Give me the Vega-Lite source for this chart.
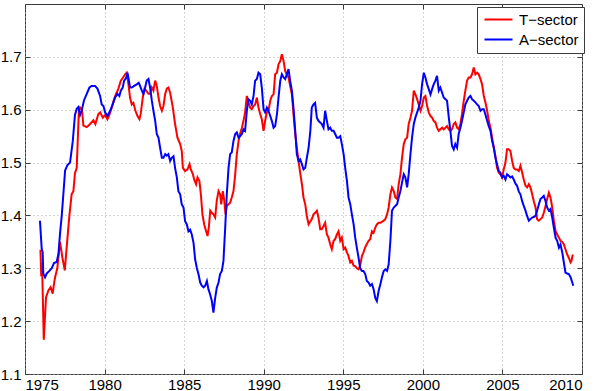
{
"$schema":"https://vega.github.io/schema/vega-lite/v6.json",
"width":557,"height":370,
"autosize":{"type":"none"},
"padding":{"left":25,"top":4,"right":18,"bottom":17},
"background":"white",
"config":{"view":{"stroke":"#3a3a3a","strokeWidth":1},"font":"Liberation Sans"},
"datasets":{"d":[
{"t":1975.97,"v":1.335,"s":"T−sector"},{"t":1976.02,"v":1.285,"s":"T−sector"},{"t":1976.07,"v":1.31,"s":"T−sector"},{"t":1976.18,"v":1.165,"s":"T−sector"},{"t":1976.32,"v":1.245,"s":"T−sector"},{"t":1976.47,"v":1.258,"s":"T−sector"},{"t":1976.61,"v":1.264,"s":"T−sector"},{"t":1976.74,"v":1.252,"s":"T−sector"},{"t":1976.82,"v":1.27,"s":"T−sector"},{"t":1976.89,"v":1.283,"s":"T−sector"},{"t":1977.03,"v":1.30,"s":"T−sector"},{"t":1977.2,"v":1.35,"s":"T−sector"},{"t":1977.35,"v":1.32,"s":"T−sector"},{"t":1977.5,"v":1.296,"s":"T−sector"},{"t":1977.62,"v":1.34,"s":"T−sector"},{"t":1977.79,"v":1.40,"s":"T−sector"},{"t":1977.93,"v":1.44,"s":"T−sector"},{"t":1978.04,"v":1.446,"s":"T−sector"},{"t":1978.14,"v":1.48,"s":"T−sector"},{"t":1978.25,"v":1.49,"s":"T−sector"},{"t":1978.38,"v":1.595,"s":"T−sector"},{"t":1978.46,"v":1.604,"s":"T−sector"},{"t":1978.58,"v":1.60,"s":"T−sector"},{"t":1978.67,"v":1.57,"s":"T−sector"},{"t":1978.88,"v":1.567,"s":"T−sector"},{"t":1979.09,"v":1.573,"s":"T−sector"},{"t":1979.3,"v":1.58,"s":"T−sector"},{"t":1979.42,"v":1.573,"s":"T−sector"},{"t":1979.61,"v":1.592,"s":"T−sector"},{"t":1979.72,"v":1.595,"s":"T−sector"},{"t":1979.89,"v":1.585,"s":"T−sector"},{"t":1980.03,"v":1.59,"s":"T−sector"},{"t":1980.18,"v":1.582,"s":"T−sector"},{"t":1980.30,"v":1.59,"s":"T−sector"},{"t":1980.45,"v":1.604,"s":"T−sector"},{"t":1980.60,"v":1.62,"s":"T−sector"},{"t":1980.72,"v":1.63,"s":"T−sector"},{"t":1980.87,"v":1.64,"s":"T−sector"},{"t":1981.02,"v":1.655,"s":"T−sector"},{"t":1981.14,"v":1.66,"s":"T−sector"},{"t":1981.29,"v":1.667,"s":"T−sector"},{"t":1981.39,"v":1.67,"s":"T−sector"},{"t":1981.50,"v":1.648,"s":"T−sector"},{"t":1981.60,"v":1.623,"s":"T−sector"},{"t":1981.71,"v":1.61,"s":"T−sector"},{"t":1981.81,"v":1.613,"s":"T−sector"},{"t":1981.94,"v":1.598,"s":"T−sector"},{"t":1982.07,"v":1.588,"s":"T−sector"},{"t":1982.19,"v":1.582,"s":"T−sector"},{"t":1982.27,"v":1.592,"s":"T−sector"},{"t":1982.40,"v":1.623,"s":"T−sector"},{"t":1982.51,"v":1.64,"s":"T−sector"},{"t":1982.61,"v":1.636,"s":"T−sector"},{"t":1982.76,"v":1.63,"s":"T−sector"},{"t":1982.86,"v":1.63,"s":"T−sector"},{"t":1982.97,"v":1.642,"s":"T−sector"},{"t":1983.07,"v":1.636,"s":"T−sector"},{"t":1983.18,"v":1.655,"s":"T−sector"},{"t":1983.28,"v":1.645,"s":"T−sector"},{"t":1983.39,"v":1.623,"s":"T−sector"},{"t":1983.49,"v":1.607,"s":"T−sector"},{"t":1983.60,"v":1.598,"s":"T−sector"},{"t":1983.70,"v":1.607,"s":"T−sector"},{"t":1983.81,"v":1.63,"s":"T−sector"},{"t":1983.91,"v":1.64,"s":"T−sector"},{"t":1984.01,"v":1.642,"s":"T−sector"},{"t":1984.12,"v":1.632,"s":"T−sector"},{"t":1984.29,"v":1.604,"s":"T−sector"},{"t":1984.43,"v":1.573,"s":"T−sector"},{"t":1984.58,"v":1.547,"s":"T−sector"},{"t":1984.75,"v":1.535,"s":"T−sector"},{"t":1984.85,"v":1.522,"s":"T−sector"},{"t":1984.92,"v":1.49,"s":"T−sector"},{"t":1985.06,"v":1.484,"s":"T−sector"},{"t":1985.21,"v":1.487,"s":"T−sector"},{"t":1985.34,"v":1.497,"s":"T−sector"},{"t":1985.42,"v":1.487,"s":"T−sector"},{"t":1985.55,"v":1.478,"s":"T−sector"},{"t":1985.63,"v":1.468,"s":"T−sector"},{"t":1985.75,"v":1.459,"s":"T−sector"},{"t":1985.84,"v":1.472,"s":"T−sector"},{"t":1985.96,"v":1.465,"s":"T−sector"},{"t":1986.05,"v":1.44,"s":"T−sector"},{"t":1986.15,"v":1.402,"s":"T−sector"},{"t":1986.26,"v":1.383,"s":"T−sector"},{"t":1986.38,"v":1.37,"s":"T−sector"},{"t":1986.47,"v":1.361,"s":"T−sector"},{"t":1986.55,"v":1.377,"s":"T−sector"},{"t":1986.64,"v":1.409,"s":"T−sector"},{"t":1986.74,"v":1.405,"s":"T−sector"},{"t":1986.84,"v":1.402,"s":"T−sector"},{"t":1986.95,"v":1.396,"s":"T−sector"},{"t":1987.05,"v":1.428,"s":"T−sector"},{"t":1987.16,"v":1.446,"s":"T−sector"},{"t":1987.26,"v":1.44,"s":"T−sector"},{"t":1987.33,"v":1.421,"s":"T−sector"},{"t":1987.43,"v":1.446,"s":"T−sector"},{"t":1987.52,"v":1.428,"s":"T−sector"},{"t":1987.60,"v":1.402,"s":"T−sector"},{"t":1987.68,"v":1.418,"s":"T−sector"},{"t":1987.79,"v":1.421,"s":"T−sector"},{"t":1987.89,"v":1.424,"s":"T−sector"},{"t":1987.99,"v":1.434,"s":"T−sector"},{"t":1988.10,"v":1.446,"s":"T−sector"},{"t":1988.21,"v":1.478,"s":"T−sector"},{"t":1988.31,"v":1.516,"s":"T−sector"},{"t":1988.42,"v":1.541,"s":"T−sector"},{"t":1988.52,"v":1.555,"s":"T−sector"},{"t":1988.63,"v":1.566,"s":"T−sector"},{"t":1988.73,"v":1.579,"s":"T−sector"},{"t":1988.83,"v":1.595,"s":"T−sector"},{"t":1988.94,"v":1.626,"s":"T−sector"},{"t":1989.04,"v":1.614,"s":"T−sector"},{"t":1989.15,"v":1.604,"s":"T−sector"},{"t":1989.25,"v":1.601,"s":"T−sector"},{"t":1989.36,"v":1.607,"s":"T−sector"},{"t":1989.46,"v":1.61,"s":"T−sector"},{"t":1989.57,"v":1.623,"s":"T−sector"},{"t":1989.67,"v":1.604,"s":"T−sector"},{"t":1989.78,"v":1.592,"s":"T−sector"},{"t":1989.88,"v":1.582,"s":"T−sector"},{"t":1989.99,"v":1.56,"s":"T−sector"},{"t":1990.09,"v":1.579,"s":"T−sector"},{"t":1990.20,"v":1.595,"s":"T−sector"},{"t":1990.30,"v":1.598,"s":"T−sector"},{"t":1990.41,"v":1.617,"s":"T−sector"},{"t":1990.51,"v":1.626,"s":"T−sector"},{"t":1990.62,"v":1.629,"s":"T−sector"},{"t":1990.72,"v":1.667,"s":"T−sector"},{"t":1990.83,"v":1.67,"s":"T−sector"},{"t":1990.93,"v":1.686,"s":"T−sector"},{"t":1991.04,"v":1.692,"s":"T−sector"},{"t":1991.14,"v":1.705,"s":"T−sector"},{"t":1991.25,"v":1.692,"s":"T−sector"},{"t":1991.35,"v":1.673,"s":"T−sector"},{"t":1991.45,"v":1.667,"s":"T−sector"},{"t":1991.56,"v":1.661,"s":"T−sector"},{"t":1991.66,"v":1.645,"s":"T−sector"},{"t":1991.77,"v":1.629,"s":"T−sector"},{"t":1991.87,"v":1.592,"s":"T−sector"},{"t":1991.98,"v":1.554,"s":"T−sector"},{"t":1992.08,"v":1.528,"s":"T−sector"},{"t":1992.19,"v":1.503,"s":"T−sector"},{"t":1992.29,"v":1.481,"s":"T−sector"},{"t":1992.40,"v":1.459,"s":"T−sector"},{"t":1992.50,"v":1.434,"s":"T−sector"},{"t":1992.61,"v":1.421,"s":"T−sector"},{"t":1992.71,"v":1.399,"s":"T−sector"},{"t":1992.82,"v":1.383,"s":"T−sector"},{"t":1992.92,"v":1.388,"s":"T−sector"},{"t":1993.02,"v":1.393,"s":"T−sector"},{"t":1993.13,"v":1.402,"s":"T−sector"},{"t":1993.23,"v":1.405,"s":"T−sector"},{"t":1993.34,"v":1.409,"s":"T−sector"},{"t":1993.44,"v":1.396,"s":"T−sector"},{"t":1993.55,"v":1.374,"s":"T−sector"},{"t":1993.65,"v":1.374,"s":"T−sector"},{"t":1993.76,"v":1.38,"s":"T−sector"},{"t":1993.86,"v":1.386,"s":"T−sector"},{"t":1993.97,"v":1.364,"s":"T−sector"},{"t":1994.07,"v":1.358,"s":"T−sector"},{"t":1994.18,"v":1.345,"s":"T−sector"},{"t":1994.28,"v":1.336,"s":"T−sector"},{"t":1994.39,"v":1.352,"s":"T−sector"},{"t":1994.49,"v":1.355,"s":"T−sector"},{"t":1994.60,"v":1.364,"s":"T−sector"},{"t":1994.70,"v":1.37,"s":"T−sector"},{"t":1994.81,"v":1.352,"s":"T−sector"},{"t":1994.91,"v":1.358,"s":"T−sector"},{"t":1995.02,"v":1.336,"s":"T−sector"},{"t":1995.12,"v":1.339,"s":"T−sector"},{"t":1995.23,"v":1.33,"s":"T−sector"},{"t":1995.33,"v":1.323,"s":"T−sector"},{"t":1995.44,"v":1.311,"s":"T−sector"},{"t":1995.54,"v":1.314,"s":"T−sector"},{"t":1995.65,"v":1.305,"s":"T−sector"},{"t":1995.75,"v":1.304,"s":"T−sector"},{"t":1995.85,"v":1.30,"s":"T−sector"},{"t":1995.96,"v":1.298,"s":"T−sector"},{"t":1996.06,"v":1.305,"s":"T−sector"},{"t":1996.17,"v":1.323,"s":"T−sector"},{"t":1996.27,"v":1.33,"s":"T−sector"},{"t":1996.38,"v":1.34,"s":"T−sector"},{"t":1996.48,"v":1.346,"s":"T−sector"},{"t":1996.59,"v":1.352,"s":"T−sector"},{"t":1996.69,"v":1.355,"s":"T−sector"},{"t":1996.80,"v":1.37,"s":"T−sector"},{"t":1996.90,"v":1.367,"s":"T−sector"},{"t":1997.01,"v":1.377,"s":"T−sector"},{"t":1997.11,"v":1.383,"s":"T−sector"},{"t":1997.22,"v":1.386,"s":"T−sector"},{"t":1997.33,"v":1.386,"s":"T−sector"},{"t":1997.54,"v":1.39,"s":"T−sector"},{"t":1997.64,"v":1.393,"s":"T−sector"},{"t":1997.75,"v":1.402,"s":"T−sector"},{"t":1997.85,"v":1.415,"s":"T−sector"},{"t":1997.96,"v":1.44,"s":"T−sector"},{"t":1998.06,"v":1.453,"s":"T−sector"},{"t":1998.17,"v":1.446,"s":"T−sector"},{"t":1998.27,"v":1.434,"s":"T−sector"},{"t":1998.38,"v":1.431,"s":"T−sector"},{"t":1998.48,"v":1.459,"s":"T−sector"},{"t":1998.59,"v":1.478,"s":"T−sector"},{"t":1998.69,"v":1.509,"s":"T−sector"},{"t":1998.80,"v":1.535,"s":"T−sector"},{"t":1998.90,"v":1.544,"s":"T−sector"},{"t":1999.01,"v":1.547,"s":"T−sector"},{"t":1999.11,"v":1.573,"s":"T−sector"},{"t":1999.22,"v":1.585,"s":"T−sector"},{"t":1999.32,"v":1.598,"s":"T−sector"},{"t":1999.43,"v":1.636,"s":"T−sector"},{"t":1999.53,"v":1.629,"s":"T−sector"},{"t":1999.64,"v":1.62,"s":"T−sector"},{"t":1999.74,"v":1.61,"s":"T−sector"},{"t":1999.85,"v":1.598,"s":"T−sector"},{"t":1999.95,"v":1.607,"s":"T−sector"},{"t":2000.06,"v":1.623,"s":"T−sector"},{"t":2000.16,"v":1.626,"s":"T−sector"},{"t":2000.27,"v":1.607,"s":"T−sector"},{"t":2000.37,"v":1.595,"s":"T−sector"},{"t":2000.48,"v":1.588,"s":"T−sector"},{"t":2000.58,"v":1.585,"s":"T−sector"},{"t":2000.68,"v":1.579,"s":"T−sector"},{"t":2000.79,"v":1.576,"s":"T−sector"},{"t":2000.89,"v":1.566,"s":"T−sector"},{"t":2001.00,"v":1.56,"s":"T−sector"},{"t":2001.10,"v":1.563,"s":"T−sector"},{"t":2001.21,"v":1.566,"s":"T−sector"},{"t":2001.31,"v":1.563,"s":"T−sector"},{"t":2001.42,"v":1.566,"s":"T−sector"},{"t":2001.52,"v":1.569,"s":"T−sector"},{"t":2001.63,"v":1.563,"s":"T−sector"},{"t":2001.73,"v":1.56,"s":"T−sector"},{"t":2001.83,"v":1.563,"s":"T−sector"},{"t":2001.94,"v":1.573,"s":"T−sector"},{"t":2002.04,"v":1.576,"s":"T−sector"},{"t":2002.15,"v":1.566,"s":"T−sector"},{"t":2002.25,"v":1.563,"s":"T−sector"},{"t":2002.36,"v":1.573,"s":"T−sector"},{"t":2002.46,"v":1.592,"s":"T−sector"},{"t":2002.57,"v":1.617,"s":"T−sector"},{"t":2002.67,"v":1.636,"s":"T−sector"},{"t":2002.78,"v":1.655,"s":"T−sector"},{"t":2002.88,"v":1.661,"s":"T−sector"},{"t":2002.99,"v":1.661,"s":"T−sector"},{"t":2003.09,"v":1.667,"s":"T−sector"},{"t":2003.20,"v":1.68,"s":"T−sector"},{"t":2003.30,"v":1.667,"s":"T−sector"},{"t":2003.41,"v":1.67,"s":"T−sector"},{"t":2003.51,"v":1.667,"s":"T−sector"},{"t":2003.62,"v":1.658,"s":"T−sector"},{"t":2003.72,"v":1.648,"s":"T−sector"},{"t":2003.83,"v":1.626,"s":"T−sector"},{"t":2003.93,"v":1.614,"s":"T−sector"},{"t":2004.04,"v":1.598,"s":"T−sector"},{"t":2004.14,"v":1.579,"s":"T−sector"},{"t":2004.25,"v":1.566,"s":"T−sector"},{"t":2004.35,"v":1.547,"s":"T−sector"},{"t":2004.46,"v":1.528,"s":"T−sector"},{"t":2004.56,"v":1.512,"s":"T−sector"},{"t":2004.66,"v":1.49,"s":"T−sector"},{"t":2004.77,"v":1.481,"s":"T−sector"},{"t":2004.87,"v":1.478,"s":"T−sector"},{"t":2004.98,"v":1.472,"s":"T−sector"},{"t":2005.08,"v":1.487,"s":"T−sector"},{"t":2005.19,"v":1.50,"s":"T−sector"},{"t":2005.29,"v":1.525,"s":"T−sector"},{"t":2005.40,"v":1.525,"s":"T−sector"},{"t":2005.50,"v":1.522,"s":"T−sector"},{"t":2005.61,"v":1.503,"s":"T−sector"},{"t":2005.71,"v":1.49,"s":"T−sector"},{"t":2005.82,"v":1.487,"s":"T−sector"},{"t":2005.92,"v":1.487,"s":"T−sector"},{"t":2006.03,"v":1.484,"s":"T−sector"},{"t":2006.13,"v":1.494,"s":"T−sector"},{"t":2006.24,"v":1.481,"s":"T−sector"},{"t":2006.34,"v":1.468,"s":"T−sector"},{"t":2006.45,"v":1.456,"s":"T−sector"},{"t":2006.55,"v":1.453,"s":"T−sector"},{"t":2006.66,"v":1.459,"s":"T−sector"},{"t":2006.76,"v":1.453,"s":"T−sector"},{"t":2006.87,"v":1.44,"s":"T−sector"},{"t":2006.97,"v":1.427,"s":"T−sector"},{"t":2007.08,"v":1.415,"s":"T−sector"},{"t":2007.18,"v":1.393,"s":"T−sector"},{"t":2007.29,"v":1.39,"s":"T−sector"},{"t":2007.39,"v":1.393,"s":"T−sector"},{"t":2007.50,"v":1.396,"s":"T−sector"},{"t":2007.60,"v":1.405,"s":"T−sector"},{"t":2007.71,"v":1.418,"s":"T−sector"},{"t":2007.81,"v":1.431,"s":"T−sector"},{"t":2007.92,"v":1.443,"s":"T−sector"},{"t":2008.02,"v":1.434,"s":"T−sector"},{"t":2008.13,"v":1.415,"s":"T−sector"},{"t":2008.23,"v":1.39,"s":"T−sector"},{"t":2008.34,"v":1.37,"s":"T−sector"},{"t":2008.44,"v":1.364,"s":"T−sector"},{"t":2008.55,"v":1.358,"s":"T−sector"},{"t":2008.65,"v":1.352,"s":"T−sector"},{"t":2008.76,"v":1.35,"s":"T−sector"},{"t":2008.86,"v":1.345,"s":"T−sector"},{"t":2008.96,"v":1.336,"s":"T−sector"},{"t":2009.07,"v":1.326,"s":"T−sector"},{"t":2009.17,"v":1.32,"s":"T−sector"},{"t":2009.28,"v":1.311,"s":"T−sector"},{"t":2009.34,"v":1.314,"s":"T−sector"},{"t":2009.42,"v":1.326,"s":"T−sector"},
{"t":1975.94,"v":1.39,"s":"A−sector"},{"t":1976.05,"v":1.337,"s":"A−sector"},{"t":1976.11,"v":1.33,"s":"A−sector"},{"t":1976.15,"v":1.29,"s":"A−sector"},{"t":1976.26,"v":1.283,"s":"A−sector"},{"t":1976.36,"v":1.29,"s":"A−sector"},{"t":1976.53,"v":1.295,"s":"A−sector"},{"t":1976.68,"v":1.30,"s":"A−sector"},{"t":1976.82,"v":1.31,"s":"A−sector"},{"t":1976.99,"v":1.312,"s":"A−sector"},{"t":1977.10,"v":1.327,"s":"A−sector"},{"t":1977.20,"v":1.365,"s":"A−sector"},{"t":1977.31,"v":1.40,"s":"A−sector"},{"t":1977.41,"v":1.44,"s":"A−sector"},{"t":1977.52,"v":1.485,"s":"A−sector"},{"t":1977.66,"v":1.495,"s":"A−sector"},{"t":1977.83,"v":1.50,"s":"A−sector"},{"t":1978.00,"v":1.54,"s":"A−sector"},{"t":1978.14,"v":1.59,"s":"A−sector"},{"t":1978.25,"v":1.602,"s":"A−sector"},{"t":1978.35,"v":1.605,"s":"A−sector"},{"t":1978.46,"v":1.59,"s":"A−sector"},{"t":1978.56,"v":1.598,"s":"A−sector"},{"t":1978.71,"v":1.618,"s":"A−sector"},{"t":1978.88,"v":1.63,"s":"A−sector"},{"t":1979.05,"v":1.642,"s":"A−sector"},{"t":1979.19,"v":1.645,"s":"A−sector"},{"t":1979.40,"v":1.645,"s":"A−sector"},{"t":1979.55,"v":1.64,"s":"A−sector"},{"t":1979.72,"v":1.626,"s":"A−sector"},{"t":1979.82,"v":1.61,"s":"A−sector"},{"t":1979.93,"v":1.607,"s":"A−sector"},{"t":1980.03,"v":1.595,"s":"A−sector"},{"t":1980.18,"v":1.588,"s":"A−sector"},{"t":1980.35,"v":1.598,"s":"A−sector"},{"t":1980.51,"v":1.61,"s":"A−sector"},{"t":1980.66,"v":1.623,"s":"A−sector"},{"t":1980.81,"v":1.63,"s":"A−sector"},{"t":1980.93,"v":1.626,"s":"A−sector"},{"t":1981.02,"v":1.636,"s":"A−sector"},{"t":1981.14,"v":1.642,"s":"A−sector"},{"t":1981.23,"v":1.655,"s":"A−sector"},{"t":1981.35,"v":1.66,"s":"A−sector"},{"t":1981.44,"v":1.67,"s":"A−sector"},{"t":1981.50,"v":1.66,"s":"A−sector"},{"t":1981.60,"v":1.642,"s":"A−sector"},{"t":1981.71,"v":1.642,"s":"A−sector"},{"t":1981.86,"v":1.645,"s":"A−sector"},{"t":1982.02,"v":1.648,"s":"A−sector"},{"t":1982.15,"v":1.651,"s":"A−sector"},{"t":1982.23,"v":1.645,"s":"A−sector"},{"t":1982.34,"v":1.636,"s":"A−sector"},{"t":1982.44,"v":1.63,"s":"A−sector"},{"t":1982.55,"v":1.642,"s":"A−sector"},{"t":1982.65,"v":1.655,"s":"A−sector"},{"t":1982.76,"v":1.658,"s":"A−sector"},{"t":1982.86,"v":1.642,"s":"A−sector"},{"t":1982.97,"v":1.617,"s":"A−sector"},{"t":1983.07,"v":1.598,"s":"A−sector"},{"t":1983.18,"v":1.579,"s":"A−sector"},{"t":1983.28,"v":1.554,"s":"A−sector"},{"t":1983.39,"v":1.547,"s":"A−sector"},{"t":1983.49,"v":1.528,"s":"A−sector"},{"t":1983.60,"v":1.509,"s":"A−sector"},{"t":1983.70,"v":1.509,"s":"A−sector"},{"t":1983.81,"v":1.516,"s":"A−sector"},{"t":1983.91,"v":1.513,"s":"A−sector"},{"t":1984.01,"v":1.516,"s":"A−sector"},{"t":1984.12,"v":1.503,"s":"A−sector"},{"t":1984.22,"v":1.509,"s":"A−sector"},{"t":1984.33,"v":1.512,"s":"A−sector"},{"t":1984.43,"v":1.49,"s":"A−sector"},{"t":1984.54,"v":1.472,"s":"A−sector"},{"t":1984.64,"v":1.446,"s":"A−sector"},{"t":1984.75,"v":1.44,"s":"A−sector"},{"t":1984.85,"v":1.421,"s":"A−sector"},{"t":1984.96,"v":1.415,"s":"A−sector"},{"t":1985.06,"v":1.389,"s":"A−sector"},{"t":1985.17,"v":1.383,"s":"A−sector"},{"t":1985.27,"v":1.37,"s":"A−sector"},{"t":1985.38,"v":1.373,"s":"A−sector"},{"t":1985.48,"v":1.364,"s":"A−sector"},{"t":1985.59,"v":1.348,"s":"A−sector"},{"t":1985.69,"v":1.317,"s":"A−sector"},{"t":1985.80,"v":1.30,"s":"A−sector"},{"t":1985.90,"v":1.289,"s":"A−sector"},{"t":1986.01,"v":1.273,"s":"A−sector"},{"t":1986.11,"v":1.267,"s":"A−sector"},{"t":1986.22,"v":1.264,"s":"A−sector"},{"t":1986.32,"v":1.267,"s":"A−sector"},{"t":1986.43,"v":1.276,"s":"A−sector"},{"t":1986.53,"v":1.26,"s":"A−sector"},{"t":1986.63,"v":1.251,"s":"A−sector"},{"t":1986.74,"v":1.238,"s":"A−sector"},{"t":1986.84,"v":1.216,"s":"A−sector"},{"t":1986.95,"v":1.244,"s":"A−sector"},{"t":1987.05,"v":1.263,"s":"A−sector"},{"t":1987.16,"v":1.273,"s":"A−sector"},{"t":1987.26,"v":1.289,"s":"A−sector"},{"t":1987.37,"v":1.295,"s":"A−sector"},{"t":1987.47,"v":1.314,"s":"A−sector"},{"t":1987.58,"v":1.377,"s":"A−sector"},{"t":1987.68,"v":1.44,"s":"A−sector"},{"t":1987.79,"v":1.49,"s":"A−sector"},{"t":1987.89,"v":1.516,"s":"A−sector"},{"t":1987.99,"v":1.519,"s":"A−sector"},{"t":1988.10,"v":1.541,"s":"A−sector"},{"t":1988.21,"v":1.554,"s":"A−sector"},{"t":1988.31,"v":1.557,"s":"A−sector"},{"t":1988.42,"v":1.547,"s":"A−sector"},{"t":1988.52,"v":1.55,"s":"A−sector"},{"t":1988.63,"v":1.554,"s":"A−sector"},{"t":1988.73,"v":1.563,"s":"A−sector"},{"t":1988.83,"v":1.56,"s":"A−sector"},{"t":1988.94,"v":1.598,"s":"A−sector"},{"t":1989.04,"v":1.62,"s":"A−sector"},{"t":1989.15,"v":1.617,"s":"A−sector"},{"t":1989.25,"v":1.61,"s":"A−sector"},{"t":1989.36,"v":1.626,"s":"A−sector"},{"t":1989.46,"v":1.655,"s":"A−sector"},{"t":1989.57,"v":1.658,"s":"A−sector"},{"t":1989.67,"v":1.67,"s":"A−sector"},{"t":1989.78,"v":1.667,"s":"A−sector"},{"t":1989.88,"v":1.642,"s":"A−sector"},{"t":1989.99,"v":1.601,"s":"A−sector"},{"t":1990.09,"v":1.595,"s":"A−sector"},{"t":1990.20,"v":1.604,"s":"A−sector"},{"t":1990.30,"v":1.598,"s":"A−sector"},{"t":1990.41,"v":1.588,"s":"A−sector"},{"t":1990.51,"v":1.579,"s":"A−sector"},{"t":1990.62,"v":1.566,"s":"A−sector"},{"t":1990.72,"v":1.569,"s":"A−sector"},{"t":1990.83,"v":1.591,"s":"A−sector"},{"t":1990.93,"v":1.623,"s":"A−sector"},{"t":1991.04,"v":1.655,"s":"A−sector"},{"t":1991.14,"v":1.667,"s":"A−sector"},{"t":1991.25,"v":1.661,"s":"A−sector"},{"t":1991.35,"v":1.658,"s":"A−sector"},{"t":1991.45,"v":1.667,"s":"A−sector"},{"t":1991.56,"v":1.677,"s":"A−sector"},{"t":1991.66,"v":1.655,"s":"A−sector"},{"t":1991.77,"v":1.636,"s":"A−sector"},{"t":1991.87,"v":1.604,"s":"A−sector"},{"t":1991.98,"v":1.56,"s":"A−sector"},{"t":1992.08,"v":1.516,"s":"A−sector"},{"t":1992.19,"v":1.503,"s":"A−sector"},{"t":1992.29,"v":1.506,"s":"A−sector"},{"t":1992.40,"v":1.497,"s":"A−sector"},{"t":1992.50,"v":1.487,"s":"A−sector"},{"t":1992.61,"v":1.49,"s":"A−sector"},{"t":1992.71,"v":1.509,"s":"A−sector"},{"t":1992.82,"v":1.528,"s":"A−sector"},{"t":1992.93,"v":1.56,"s":"A−sector"},{"t":1993.02,"v":1.604,"s":"A−sector"},{"t":1993.13,"v":1.61,"s":"A−sector"},{"t":1993.23,"v":1.613,"s":"A−sector"},{"t":1993.34,"v":1.585,"s":"A−sector"},{"t":1993.44,"v":1.579,"s":"A−sector"},{"t":1993.55,"v":1.576,"s":"A−sector"},{"t":1993.65,"v":1.573,"s":"A−sector"},{"t":1993.76,"v":1.566,"s":"A−sector"},{"t":1993.86,"v":1.598,"s":"A−sector"},{"t":1993.97,"v":1.579,"s":"A−sector"},{"t":1994.07,"v":1.563,"s":"A−sector"},{"t":1994.18,"v":1.566,"s":"A−sector"},{"t":1994.28,"v":1.56,"s":"A−sector"},{"t":1994.39,"v":1.56,"s":"A−sector"},{"t":1994.49,"v":1.554,"s":"A−sector"},{"t":1994.60,"v":1.547,"s":"A−sector"},{"t":1994.70,"v":1.547,"s":"A−sector"},{"t":1994.81,"v":1.55,"s":"A−sector"},{"t":1994.91,"v":1.535,"s":"A−sector"},{"t":1995.02,"v":1.516,"s":"A−sector"},{"t":1995.12,"v":1.49,"s":"A−sector"},{"t":1995.23,"v":1.465,"s":"A−sector"},{"t":1995.33,"v":1.434,"s":"A−sector"},{"t":1995.44,"v":1.421,"s":"A−sector"},{"t":1995.54,"v":1.402,"s":"A−sector"},{"t":1995.65,"v":1.383,"s":"A−sector"},{"t":1995.75,"v":1.358,"s":"A−sector"},{"t":1995.85,"v":1.339,"s":"A−sector"},{"t":1995.96,"v":1.32,"s":"A−sector"},{"t":1996.06,"v":1.30,"s":"A−sector"},{"t":1996.17,"v":1.295,"s":"A−sector"},{"t":1996.27,"v":1.295,"s":"A−sector"},{"t":1996.38,"v":1.289,"s":"A−sector"},{"t":1996.48,"v":1.276,"s":"A−sector"},{"t":1996.59,"v":1.273,"s":"A−sector"},{"t":1996.69,"v":1.267,"s":"A−sector"},{"t":1996.80,"v":1.27,"s":"A−sector"},{"t":1996.90,"v":1.261,"s":"A−sector"},{"t":1997.01,"v":1.244,"s":"A−sector"},{"t":1997.11,"v":1.238,"s":"A−sector"},{"t":1997.22,"v":1.257,"s":"A−sector"},{"t":1997.33,"v":1.27,"s":"A−sector"},{"t":1997.43,"v":1.283,"s":"A−sector"},{"t":1997.54,"v":1.295,"s":"A−sector"},{"t":1997.64,"v":1.298,"s":"A−sector"},{"t":1997.75,"v":1.295,"s":"A−sector"},{"t":1997.85,"v":1.307,"s":"A−sector"},{"t":1997.96,"v":1.352,"s":"A−sector"},{"t":1998.06,"v":1.409,"s":"A−sector"},{"t":1998.17,"v":1.415,"s":"A−sector"},{"t":1998.27,"v":1.418,"s":"A−sector"},{"t":1998.38,"v":1.421,"s":"A−sector"},{"t":1998.48,"v":1.434,"s":"A−sector"},{"t":1998.59,"v":1.446,"s":"A−sector"},{"t":1998.69,"v":1.462,"s":"A−sector"},{"t":1998.80,"v":1.478,"s":"A−sector"},{"t":1998.90,"v":1.472,"s":"A−sector"},{"t":1999.01,"v":1.453,"s":"A−sector"},{"t":1999.11,"v":1.478,"s":"A−sector"},{"t":1999.22,"v":1.516,"s":"A−sector"},{"t":1999.32,"v":1.547,"s":"A−sector"},{"t":1999.43,"v":1.573,"s":"A−sector"},{"t":1999.53,"v":1.585,"s":"A−sector"},{"t":1999.64,"v":1.595,"s":"A−sector"},{"t":1999.74,"v":1.604,"s":"A−sector"},{"t":1999.85,"v":1.617,"s":"A−sector"},{"t":1999.95,"v":1.648,"s":"A−sector"},{"t":2000.06,"v":1.67,"s":"A−sector"},{"t":2000.16,"v":1.661,"s":"A−sector"},{"t":2000.27,"v":1.648,"s":"A−sector"},{"t":2000.37,"v":1.639,"s":"A−sector"},{"t":2000.48,"v":1.629,"s":"A−sector"},{"t":2000.58,"v":1.639,"s":"A−sector"},{"t":2000.68,"v":1.648,"s":"A−sector"},{"t":2000.79,"v":1.655,"s":"A−sector"},{"t":2000.89,"v":1.664,"s":"A−sector"},{"t":2001.00,"v":1.636,"s":"A−sector"},{"t":2001.10,"v":1.642,"s":"A−sector"},{"t":2001.21,"v":1.632,"s":"A−sector"},{"t":2001.31,"v":1.623,"s":"A−sector"},{"t":2001.42,"v":1.62,"s":"A−sector"},{"t":2001.52,"v":1.617,"s":"A−sector"},{"t":2001.63,"v":1.585,"s":"A−sector"},{"t":2001.73,"v":1.56,"s":"A−sector"},{"t":2001.83,"v":1.532,"s":"A−sector"},{"t":2001.94,"v":1.525,"s":"A−sector"},{"t":2002.04,"v":1.535,"s":"A−sector"},{"t":2002.15,"v":1.528,"s":"A−sector"},{"t":2002.25,"v":1.554,"s":"A−sector"},{"t":2002.36,"v":1.566,"s":"A−sector"},{"t":2002.46,"v":1.579,"s":"A−sector"},{"t":2002.57,"v":1.595,"s":"A−sector"},{"t":2002.67,"v":1.61,"s":"A−sector"},{"t":2002.78,"v":1.617,"s":"A−sector"},{"t":2002.88,"v":1.623,"s":"A−sector"},{"t":2002.99,"v":1.626,"s":"A−sector"},{"t":2003.09,"v":1.62,"s":"A−sector"},{"t":2003.20,"v":1.617,"s":"A−sector"},{"t":2003.30,"v":1.614,"s":"A−sector"},{"t":2003.41,"v":1.61,"s":"A−sector"},{"t":2003.51,"v":1.607,"s":"A−sector"},{"t":2003.62,"v":1.598,"s":"A−sector"},{"t":2003.72,"v":1.601,"s":"A−sector"},{"t":2003.83,"v":1.601,"s":"A−sector"},{"t":2003.93,"v":1.591,"s":"A−sector"},{"t":2004.04,"v":1.579,"s":"A−sector"},{"t":2004.14,"v":1.569,"s":"A−sector"},{"t":2004.25,"v":1.56,"s":"A−sector"},{"t":2004.35,"v":1.541,"s":"A−sector"},{"t":2004.46,"v":1.528,"s":"A−sector"},{"t":2004.56,"v":1.509,"s":"A−sector"},{"t":2004.66,"v":1.497,"s":"A−sector"},{"t":2004.77,"v":1.484,"s":"A−sector"},{"t":2004.87,"v":1.481,"s":"A−sector"},{"t":2004.98,"v":1.472,"s":"A−sector"},{"t":2005.08,"v":1.475,"s":"A−sector"},{"t":2005.19,"v":1.468,"s":"A−sector"},{"t":2005.29,"v":1.478,"s":"A−sector"},{"t":2005.40,"v":1.475,"s":"A−sector"},{"t":2005.50,"v":1.472,"s":"A−sector"},{"t":2005.61,"v":1.474,"s":"A−sector"},{"t":2005.71,"v":1.468,"s":"A−sector"},{"t":2005.82,"v":1.46,"s":"A−sector"},{"t":2005.92,"v":1.456,"s":"A−sector"},{"t":2006.03,"v":1.445,"s":"A−sector"},{"t":2006.13,"v":1.44,"s":"A−sector"},{"t":2006.24,"v":1.427,"s":"A−sector"},{"t":2006.34,"v":1.418,"s":"A−sector"},{"t":2006.45,"v":1.409,"s":"A−sector"},{"t":2006.55,"v":1.399,"s":"A−sector"},{"t":2006.66,"v":1.39,"s":"A−sector"},{"t":2006.76,"v":1.393,"s":"A−sector"},{"t":2006.87,"v":1.396,"s":"A−sector"},{"t":2006.97,"v":1.397,"s":"A−sector"},{"t":2007.08,"v":1.399,"s":"A−sector"},{"t":2007.18,"v":1.409,"s":"A−sector"},{"t":2007.29,"v":1.421,"s":"A−sector"},{"t":2007.39,"v":1.431,"s":"A−sector"},{"t":2007.50,"v":1.434,"s":"A−sector"},{"t":2007.60,"v":1.437,"s":"A−sector"},{"t":2007.71,"v":1.427,"s":"A−sector"},{"t":2007.81,"v":1.415,"s":"A−sector"},{"t":2007.92,"v":1.409,"s":"A−sector"},{"t":2008.02,"v":1.412,"s":"A−sector"},{"t":2008.13,"v":1.396,"s":"A−sector"},{"t":2008.23,"v":1.377,"s":"A−sector"},{"t":2008.34,"v":1.358,"s":"A−sector"},{"t":2008.44,"v":1.352,"s":"A−sector"},{"t":2008.55,"v":1.339,"s":"A−sector"},{"t":2008.65,"v":1.345,"s":"A−sector"},{"t":2008.76,"v":1.33,"s":"A−sector"},{"t":2008.86,"v":1.311,"s":"A−sector"},{"t":2008.96,"v":1.292,"s":"A−sector"},{"t":2009.07,"v":1.29,"s":"A−sector"},{"t":2009.17,"v":1.289,"s":"A−sector"},{"t":2009.28,"v":1.283,"s":"A−sector"},{"t":2009.39,"v":1.273,"s":"A−sector"},{"t":2009.45,"v":1.267,"s":"A−sector"}
]},
"data":{"name":"d"},
"layer":[
{"mark":{"type":"line","strokeWidth":2,"clip":true},
 "encoding":{
  "x":{"field":"t","type":"quantitative","scale":{"domain":[1975,2010],"nice":false,"zero":false},
       "axis":{"orient":"bottom","title":null,"values":[1975,1980,1985,1990,1995,2000,2005,2010],"format":"d","domain":false,"grid":true,"gridColor":"#a8a8a8","gridDash":[1,3],"gridWidth":1,"tickColor":"#3a3a3a","tickSize":-5,"labelPadding":8,"labelFontSize":15,"labelColor":"#000","labelFont":"Liberation Sans"}},
  "y":{"field":"v","type":"quantitative","scale":{"domain":[1.1,1.8],"nice":false,"zero":false},
       "axis":{"orient":"left","title":null,"values":[1.1,1.2,1.3,1.4,1.5,1.6,1.7],"format":".1f","domain":false,"grid":true,"gridColor":"#a8a8a8","gridDash":[1,3],"gridWidth":1,"tickColor":"#3a3a3a","tickSize":-5,"labelPadding":9,"labelFontSize":15,"labelColor":"#000","labelFont":"Liberation Sans"}},
  "color":{"field":"s","type":"nominal","sort":["T−sector","A−sector"],"scale":{"domain":["T−sector","A−sector"],"range":["#ff0000","#0000ff"]},
       "legend":{"title":null,"orient":"none","legendX":452,"legendY":3,"direction":"vertical","strokeColor":"#3a3a3a","fillColor":"#ffffff","padding":5,"symbolType":"M-1,0H4.6","symbolSize":100,"symbolStrokeWidth":2,"labelOffset":22,"labelFontSize":15,"labelFont":"Liberation Sans","labelColor":"#000","rowPadding":4}}
 }},
{"mark":{"type":"line","strokeOpacity":0},
 "encoding":{
  "x":{"field":"t","type":"quantitative","axis":{"orient":"top","title":null,"values":[1975,1980,1985,1990,1995,2000,2005,2010],"labels":false,"domain":false,"grid":false,"tickColor":"#3a3a3a","tickSize":-5}},
  "y":{"field":"v","type":"quantitative","axis":{"orient":"right","title":null,"values":[1.1,1.2,1.3,1.4,1.5,1.6,1.7],"labels":false,"domain":false,"grid":false,"tickColor":"#3a3a3a","tickSize":-5}},
  "detail":{"field":"s"}
 }}
],
"resolve":{"axis":{"x":"independent","y":"independent"}}
}
